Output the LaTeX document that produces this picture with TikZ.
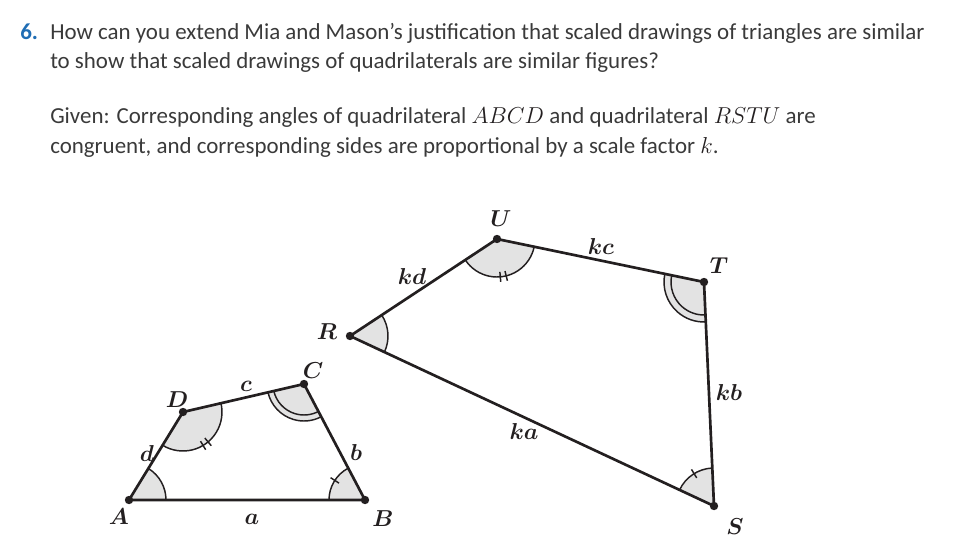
\documentclass[tikz,border=0pt]{standalone}
\usepackage{amsmath}
\usepackage{fontspec}
\setmainfont{Carlito}
\usepackage{tikz}
\usetikzlibrary{angles,positioning}

\definecolor{ink}{HTML}{231F20}
\definecolor{txtgray}{HTML}{3A3A3A}
\definecolor{qblue}{HTML}{1F6DB4}
\definecolor{shade}{HTML}{E3E3E3}

\newcommand{\qvar}[1]{{\fontsize{19}{20}\selectfont\color{ink}$#1$}}

\tikzset{
  side/.style={draw=ink,line width=2pt,line join=round},
  lbl/.style={font=\fontsize{16.5}{16.5}\selectfont\boldmath,text=ink,inner sep=0pt},
  txt/.style={font=\fontsize{17.2}{20}\selectfont,text=txtgray,inner sep=0pt,anchor=base west},
  angmark/.style={draw=ink,fill=shade,line width=1.1pt,angle radius=#1},
  arconly/.style={draw=ink,line width=1.1pt,angle radius=#1},
  tick/.style={draw=ink,line width=1.1pt},
}

\begin{document}
\begin{tikzpicture}[x=0.75pt,y=0.75pt]
    \useasboundingbox (0,0) rectangle (978,-550);
    % question
    \node[txt,font=\fontsize{17.2}{20}\selectfont\bfseries,text=qblue] (num) at (20,-39) {6.};
    \node[txt] (q1) at (50,-39) {How can you extend Mia and Mason’s justification that scaled drawings of triangles are similar};
    \node[txt] (q2) at (50,-68) {to show that scaled drawings of quadrilaterals are similar figures?};
    \node[txt] (g1) at (50,-123) {Given: Corresponding angles of quadrilateral \qvar{ABCD} and quadrilateral \qvar{RSTU} are};
    \node[txt] (g2) at (50,-153) {congruent, and corresponding sides are proportional by a scale factor \qvar{k}.};

    % quadrilateral ABCD
    \coordinate (A) at (129,-500);
    \coordinate (B) at (365,-500);
    \coordinate (C) at (304,-384);
    \coordinate (D) at (183,-412);
    % quadrilateral RSTU
    \coordinate (R) at (350,-336);
    \coordinate (S) at (714,-506);
    \coordinate (T) at (704,-282);
    \coordinate (U) at (497,-239);

    % angle marks
    \pic[angmark=27.75pt] {angle = B--A--D};
    \pic[angmark=27pt] {angle = C--B--A};
    \pic[angmark=27.75pt] {angle = D--C--B};
    \pic[arconly=23.25pt] {angle = D--C--B};
    \pic[angmark=29.25pt] {angle = A--D--C};
    \pic[angmark=28.5pt] {angle = S--R--U};
    \pic[angmark=28.5pt] {angle = T--S--R};
    \pic[angmark=30pt] {angle = U--T--S};
    \pic[arconly=24.75pt] {angle = U--T--S};
    \pic[angmark=28.5pt] {angle = R--U--T};
    \draw[tick] (B) ++(147:31) -- ++(147:10);
    \draw[tick] (D) ++(301:34) -- ++(301:10);
    \draw[tick] (D) ++(310:34) -- ++(310:10);
    \draw[tick] (S) ++(121.6:33) -- ++(121.6:10);
    \draw[tick] (U) ++(275:33) -- ++(275:10);
    \draw[tick] (U) ++(284:33) -- ++(284:10);

    % sides
    \draw[side] (A) -- (B) -- (C) -- (D) -- cycle;
    \draw[side] (R) -- (S) -- (T) -- (U) -- cycle;
    \foreach \v in {A,B,C,D,R,S,T,U}
      \fill[ink] (\v) circle (4.2);

    % labels
    \node[lbl] (lA) at (119,-517) {$A$};
    \node[lbl] (lB) at (383,-519) {$B$};
    \node[lbl] (lC) at (313,-371) {$C$};
    \node[lbl] (lD) at (177,-400) {$D$};
    \node[lbl] (la) at (252,-519) {$a$};
    \node[lbl] (lb) at (356,-452) {$b$};
    \node[lbl] (lc) at (246,-386) {$c$};
    \node[lbl] (ld) at (147,-453) {$d$};
    \node[lbl] (lU) at (501,-219) {$U$};
    \node[lbl] (lT) at (719,-266) {$T$};
    \node[lbl] (lR) at (327,-332) {$R$};
    \node[lbl] (lS) at (735,-527) {$S$};
    \node[lbl] (lkd) at (412,-276) {$kd$};
    \node[lbl] (lkc) at (601,-246) {$kc$};
    \node[lbl] (lkb) at (729,-392) {$kb$};
    \node[lbl] (lka) at (524,-431) {$ka$};
\end{tikzpicture}
\end{document}
